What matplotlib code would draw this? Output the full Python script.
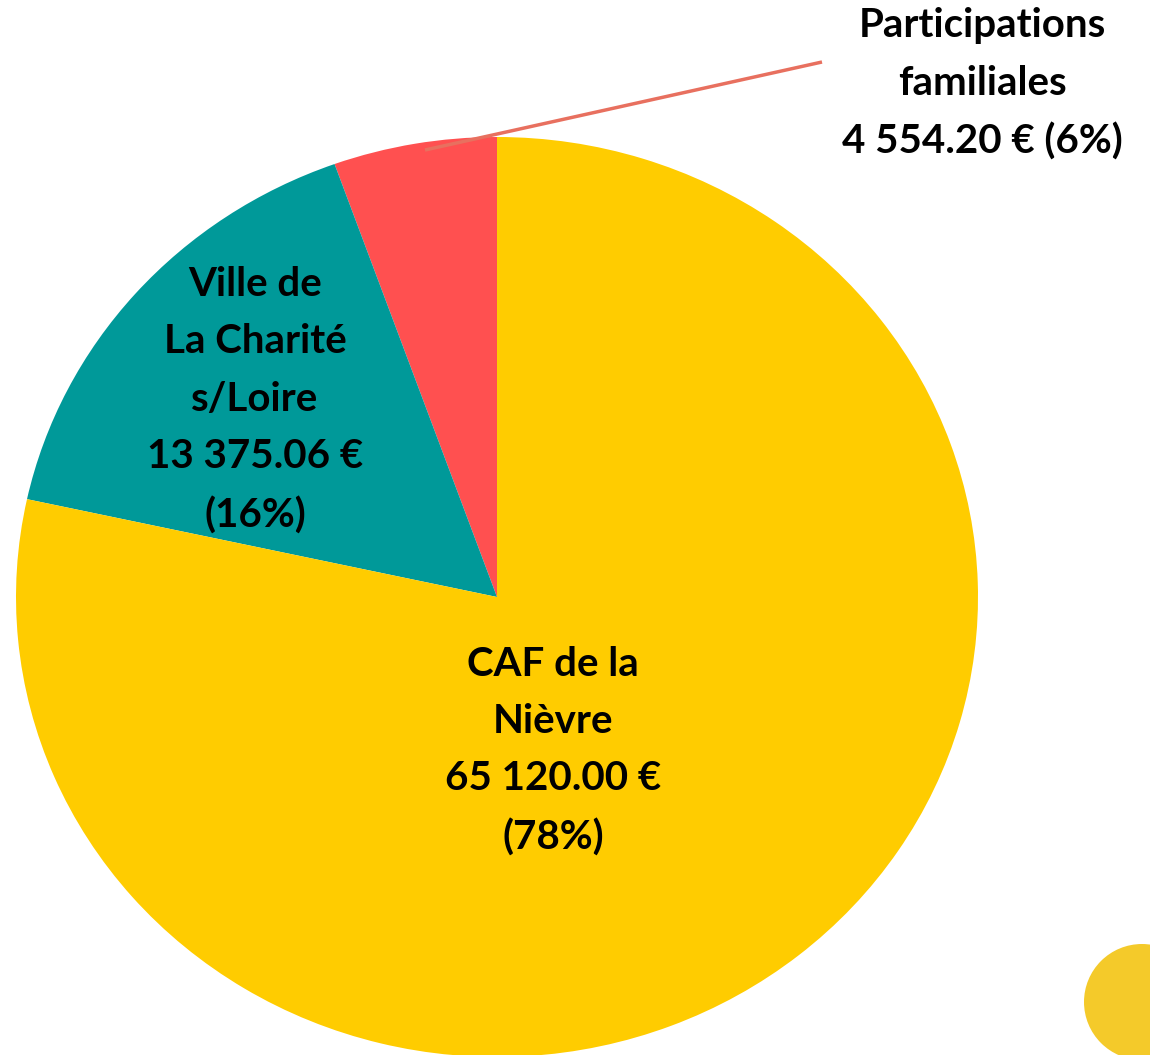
import matplotlib.pyplot as plt
from matplotlib.patches import Circle

labels = ['Participations\nfamiliales', 'Ville de\nLa Charité\ns/Loire', 'CAF de la\nNièvre']
values = [4554.20, 13375.06, 65120.00]
pcts = ['6%', '16%', '78%']
colors = ['#FF5050', '#009999', '#FFCC00']

W, H = 1150, 1055
fig = plt.figure(figsize=(W / 100, H / 100), dpi=100)

# pie axes: unit circle stretched a bit horizontally like the original
cx, cy, rx, ry = 497, 597, 481, 460
ax = fig.add_axes([0, 0, 1, 1])
ax.pie(values, colors=colors, startangle=90, counterclock=True,
       wedgeprops=dict(linewidth=0))
ax.set_aspect('auto')
ax.set_xlim(-cx / rx, (W - cx) / rx)
ax.set_ylim(-(H - cy) / ry, cy / ry)
ax.axis('off')

# overlay in pixel coords for labels and decoration
ov = fig.add_axes([0, 0, 1, 1])
ov.set_xlim(0, W)
ov.set_ylim(H, 0)
ov.axis('off')
ov.patch.set_alpha(0)

def fmt(v):
    s = f'{v:,.2f}'.replace(',', ' ')
    return s + ' €'

font = dict(family=['Lato', 'DejaVu Sans'], fontweight='bold', fontsize=29,
            ha='center', va='center', linespacing=1.68, color='black')

ov.text(982, 84, labels[0] + '\n' + fmt(values[0]) + ' (' + pcts[0] + ')', **font)
ov.text(255, 400, labels[1] + '\n' + fmt(values[1]) + '\n(' + pcts[1] + ')', **font)
ov.text(553, 751, labels[2] + '\n' + fmt(values[2]) + '\n(' + pcts[2] + ')', **font)

ov.plot([425, 822], [150, 62], color='#E8705F', lw=2.5, solid_capstyle='butt')

ov.add_patch(Circle((1142, 1002), 58, color='#F4CA2A', lw=0))

fig.savefig('out.png', dpi=100)
